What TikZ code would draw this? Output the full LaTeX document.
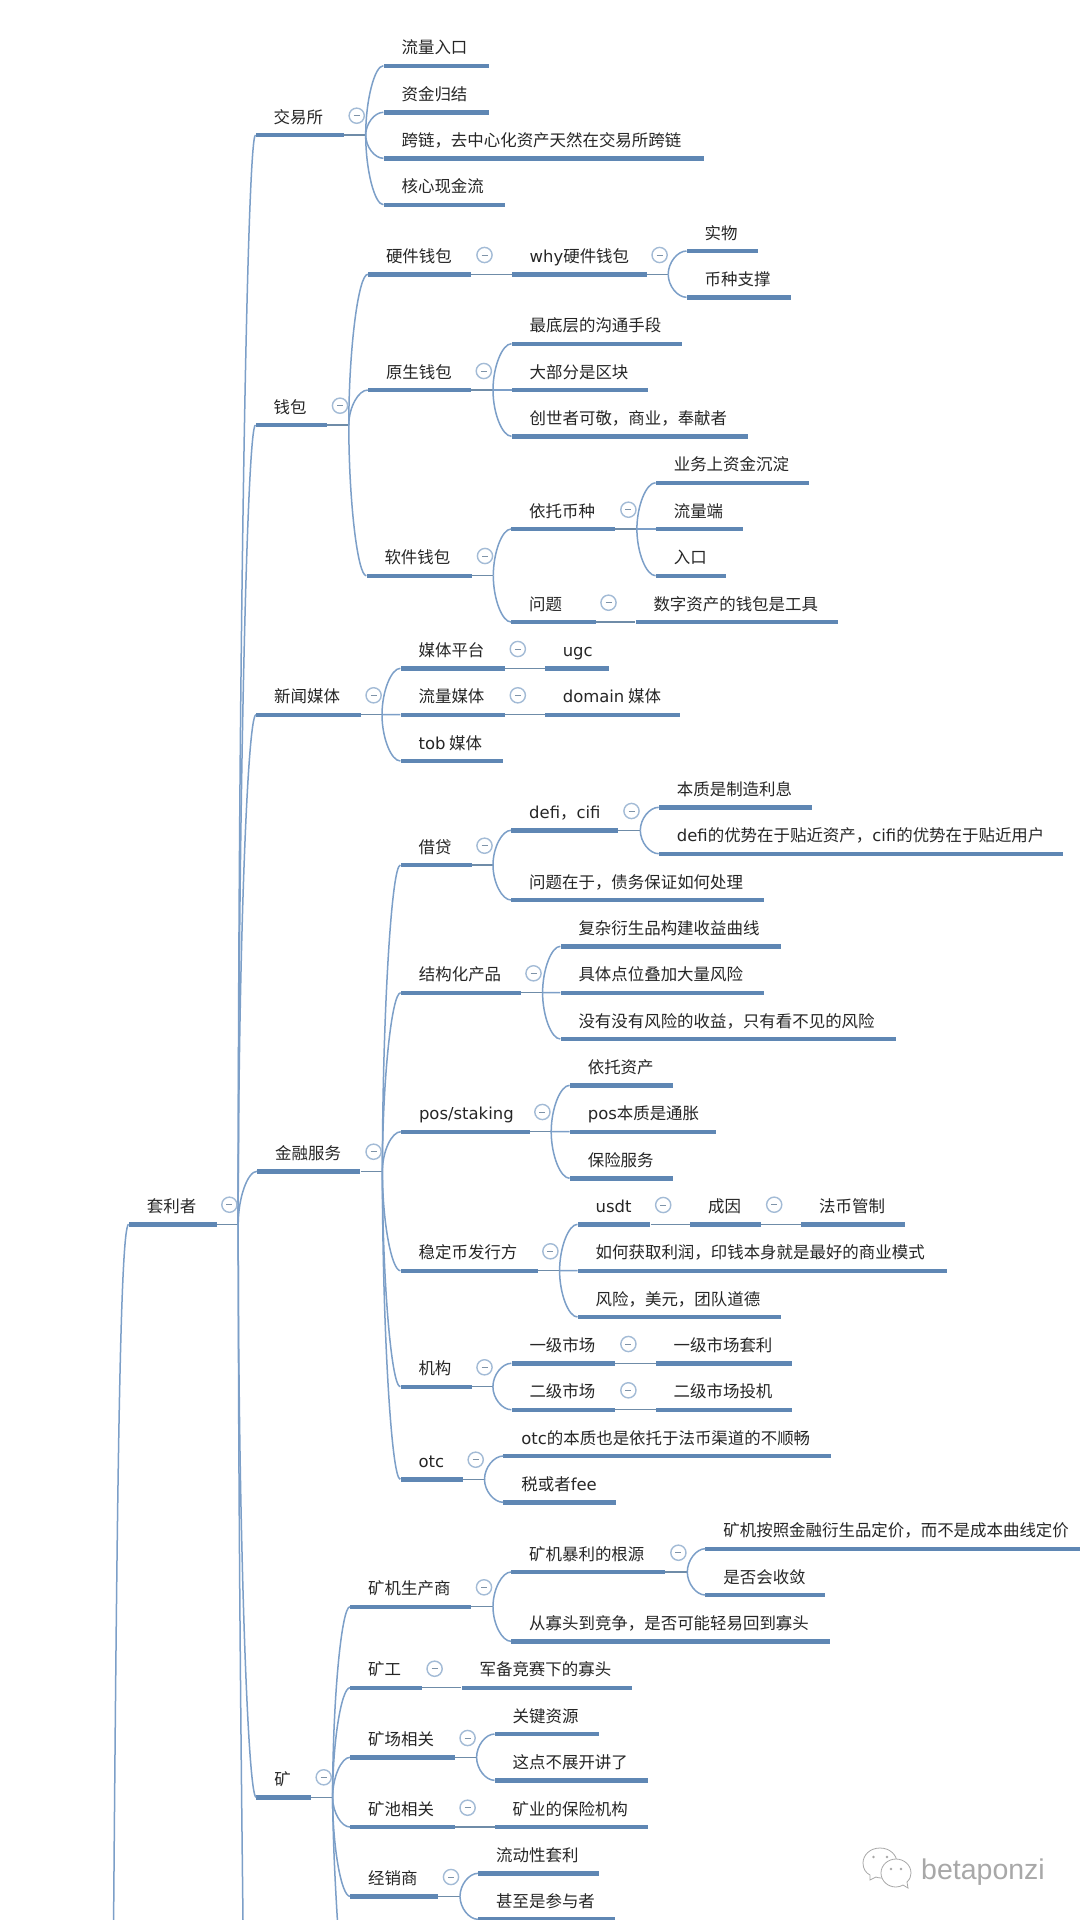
\documentclass[tikz,border=0pt]{standalone}
\usepackage{fontspec}
\setmainfont{Noto Sans CJK SC}
\newfontfamily\lat{DejaVu Sans}
\newfontfamily\wmfont{Liberation Sans}
\usetikzlibrary{calc}
\definecolor{barblue}{HTML}{5F87B4}
\definecolor{linkblue}{HTML}{7C9FC8}
\definecolor{stemblue}{HTML}{6F8CA8}
\definecolor{togglering}{HTML}{A3BBD6}
\definecolor{toggleminus}{HTML}{7E93A8}
\definecolor{labeltext}{HTML}{262626}
\definecolor{wmgrey}{HTML}{A8A8A8}
\tikzset{
  barnode/.style={rectangle,fill=barblue,inner sep=0pt,minimum height=4.4pt,anchor=west},
  lbl/.style={inner sep=0pt,anchor=base west,text=labeltext,font=\fontsize{16.45}{18}\selectfont},
  conn/.style={draw=linkblue,line width=1.5pt},
  stem/.style={draw=stemblue,line width=1.3pt},
  togglenode/.style={circle,draw=togglering,fill=white,line width=1.4pt,minimum size=15.2pt,inner sep=0pt,
    path picture={\draw[toggleminus,line width=0.9pt] ($(path picture bounding box.center)+(-3pt,0)$) -- ($(path picture bounding box.center)+(3pt,0)$);}},
  wmline/.style={draw=wmgrey,line width=0.8pt}
}
% name, x0, x1, y, text
\newcommand{\tpc}[5]{%
  \node[barnode,minimum width={(#3-#2)*1pt}] (#1) at (#2,#4) {};
  \node[lbl,xshift=18pt,yshift=11.8pt] (#1t) at (#1.west) {#5};}
% parent, fork x : horizontal stem from the bar to its fork
\newcommand{\fkk}[2]{%
  \coordinate (#1f) at (#2,0 |- #1.west);
  \draw[stem] (#1.east) -- (#1f);}
% parent, child : curved branch
\newcommand{\brr}[2]{%
  \draw[conn] (#1f) .. controls ($(#1f)!.5!(#1f |- #2.west)$) and ($(#2.west)!.5!(#1f |- #2.west)$) .. (#2.west);}
% parent, child : straight link
\newcommand{\stl}[2]{\draw[stem] (#1.east) -- (#2.west);}
% name, x, y
\newcommand{\tgl}[3]{\node[togglenode] (#1) at (#2,#3) {};}
\begin{document}
\begin{tikzpicture}[x=1pt,y=-1pt]
\useasboundingbox[fill=white] (0,0) rectangle (1080,1920);

% ---- nodes ----
\tpc{root}{128.7}{216.3}{1224.3}{套利者}
\tpc{jys}{255.5}{343.7}{135}{交易所}
\tpc{qb}{255.5}{327}{425}{钱包}
\tpc{xw}{256}{360.5}{714.7}{新闻媒体}
\tpc{jr}{257}{360.2}{1171.3}{金融服务}
\tpc{kuang}{256.2}{310.6}{1797.3}{矿}

\tpc{a1}{383.4}{488.4}{65.7}{流量入口}
\tpc{a2}{383.4}{488.4}{112.3}{资金归结}
\tpc{a3}{383.4}{703.7}{158.3}{跨链，去中心化资产天然在交易所跨链}
\tpc{a4}{383.4}{504.7}{204.7}{核心现金流}

\tpc{yj}{367.8}{471}{274.3}{硬件钱包}
\tpc{why}{511.5}{646.9}{274.3}{{\lat why}硬件钱包}
\tpc{sw}{686.5}{757.8}{251}{实物}
\tpc{bz}{686.5}{790.5}{297.3}{币种支撑}
\tpc{ys}{367.8}{471}{390}{原生钱包}
\tpc{ys1}{511.5}{681.6}{343.7}{最底层的沟通手段}
\tpc{ys2}{511.5}{648.2}{390}{大部分是区块}
\tpc{ys3}{511.5}{747.8}{436.3}{创世者可敬，商业，奉献者}
\tpc{rj}{366.3}{471.5}{575.7}{软件钱包}
\tpc{yt}{511}{615}{529}{依托币种}
\tpc{yt1}{655.6}{809}{482.7}{业务上资金沉淀}
\tpc{yt2}{655.6}{742.5}{529}{流量端}
\tpc{yt3}{655.6}{726}{575.7}{入口}
\tpc{wt}{511}{595.5}{622}{问题}
\tpc{wt1}{635.3}{838}{622}{数字资产的钱包是工具}

\tpc{mt}{400.4}{504.4}{668.3}{媒体平台}
\tpc{ugc}{544.6}{608.5}{668.3}{{\lat ugc}}
\tpc{ll}{400.4}{504.4}{714.7}{流量媒体}
\tpc{dm}{544.6}{679.7}{714.7}{{\lat domain} 媒体}
\tpc{tob}{400.4}{503}{761}{{\lat tob} 媒体}

\tpc{jd}{400.4}{471.5}{865}{借贷}
\tpc{df}{511}{618}{830.3}{{\lat defi}，{\lat cifi}}
\tpc{df1}{658.7}{812}{807.3}{本质是制造利息}
\tpc{df2}{658.7}{1063}{853.7}{{\lat defi}的优势在于贴近资产，{\lat cifi}的优势在于贴近用户}
\tpc{jd2}{511}{763.5}{900}{问题在于，债务保证如何处理}
\tpc{jg}{400.7}{521}{992.7}{结构化产品}
\tpc{jg1}{560.3}{780.4}{946.3}{复杂衍生品构建收益曲线}
\tpc{jg2}{560.3}{763.8}{992.7}{具体点位叠加大量风险}
\tpc{jg3}{560.3}{896}{1039}{没有没有风险的收益，只有看不见的风险}
\tpc{pos}{400.8}{529.4}{1131.7}{{\lat pos/staking}}
\tpc{pos1}{569.6}{672.9}{1085.3}{依托资产}
\tpc{pos2}{569.6}{716}{1131.7}{{\lat pos}本质是通胀}
\tpc{pos3}{569.6}{672.9}{1178.3}{保险服务}
\tpc{wd}{400.5}{537.8}{1270.7}{稳定币发行方}
\tpc{usdt}{577.5}{650.2}{1224.3}{{\lat usdt}}
\tpc{cy}{690}{760.8}{1224.3}{成因}
\tpc{fb}{801}{904.7}{1224.3}{法币管制}
\tpc{wd2}{577.5}{946.4}{1270.7}{如何获取利润，印钱本身就是最好的商业模式}
\tpc{wd3}{577.5}{781}{1317}{风险，美元，团队道德}
\tpc{ji}{400.3}{471.5}{1386.7}{机构}
\tpc{yj1}{511.3}{615}{1363.3}{一级市场}
\tpc{yj2}{655.5}{792.2}{1363.3}{一级市场套利}
\tpc{ej1}{511.3}{615}{1409.7}{二级市场}
\tpc{ej2}{655.5}{792.2}{1409.7}{二级市场投机}
\tpc{otc}{400.3}{463}{1479.3}{{\lat otc}}
\tpc{otc1}{503.2}{830.4}{1456}{{\lat otc}的本质也是依托于法币渠道的不顺畅}
\tpc{otc2}{503.2}{615.4}{1502.3}{税或者{\lat fee}}

\tpc{kj}{350}{471}{1606.7}{矿机生产商}
\tpc{bl}{511}{664.6}{1572}{矿机暴利的根源}
\tpc{bl1}{705.2}{1080}{1548.7}{矿机按照金融衍生品定价，而不是成本曲线定价}
\tpc{bl2}{705.2}{825}{1595}{是否会收敛}
\tpc{kj2}{511}{830}{1641.3}{从寡头到竞争，是否可能轻易回到寡头}
\tpc{kg}{350}{421.5}{1687.7}{矿工}
\tpc{kg1}{461.4}{631.5}{1687.7}{军备竞赛下的寡头}
\tpc{kc}{350}{454.5}{1757.3}{矿场相关}
\tpc{kc1}{494.5}{598.5}{1734}{关键资源}
\tpc{kc2}{494.5}{648}{1780.3}{这点不展开讲了}
\tpc{kcc}{350}{454.5}{1827}{矿池相关}
\tpc{kcc1}{494.5}{648}{1827}{矿业的保险机构}
\tpc{jx}{350}{438}{1896.3}{经销商}
\tpc{jx1}{478}{598.5}{1873.3}{流动性套利}
\tpc{jx2}{478}{615}{1919.3}{甚至是参与者}

% ---- connectors ----
\coordinate (rootup) at (113.6,1920);
\draw[conn] (rootup) .. controls (117,1500) and (120,1224.3) .. (root.west);

\fkk{root}{238.2}
\foreach \c in {jys,qb,xw,jr,kuang} {\brr{root}{\c}}
\coordinate (rootdown) at (243,1920);
\draw[conn] (rootf) .. controls (238.4,1500) and (241,1750) .. (rootdown);

\fkk{jys}{365.7}
\foreach \c in {a1,a2,a3,a4} {\brr{jys}{\c}}
\fkk{qb}{348.8}
\foreach \c in {yj,ys,rj} {\brr{qb}{\c}}
\stl{yj}{why}
\fkk{why}{668.2}
\foreach \c in {sw,bz} {\brr{why}{\c}}
\fkk{ys}{493}
\foreach \c in {ys1,ys2,ys3} {\brr{ys}{\c}}
\fkk{rj}{493.3}
\foreach \c in {yt,wt} {\brr{rj}{\c}}
\fkk{yt}{636.9}
\foreach \c in {yt1,yt2,yt3} {\brr{yt}{\c}}
\stl{wt}{wt1}

\fkk{xw}{382}
\foreach \c in {mt,ll,tob} {\brr{xw}{\c}}
\stl{mt}{ugc}
\stl{ll}{dm}

\fkk{jr}{382.4}
\foreach \c in {jd,jg,pos,wd,ji,otc} {\brr{jr}{\c}}
\fkk{jd}{493}
\foreach \c in {df,jd2} {\brr{jd}{\c}}
\fkk{df}{640.3}
\foreach \c in {df1,df2} {\brr{df}{\c}}
\fkk{jg}{542.6}
\foreach \c in {jg1,jg2,jg3} {\brr{jg}{\c}}
\fkk{pos}{551.2}
\foreach \c in {pos1,pos2,pos3} {\brr{pos}{\c}}
\fkk{wd}{559.6}
\foreach \c in {usdt,wd2,wd3} {\brr{wd}{\c}}
\stl{usdt}{cy}
\stl{cy}{fb}
\fkk{ji}{492.9}
\foreach \c in {yj1,ej1} {\brr{ji}{\c}}
\stl{yj1}{yj2}
\stl{ej1}{ej2}
\fkk{otc}{484.5}
\foreach \c in {otc1,otc2} {\brr{otc}{\c}}

\fkk{kuang}{332.6}
\foreach \c in {kj,kg,kc,kcc,jx} {\brr{kuang}{\c}}
\coordinate (kuangdown) at (337.4,1920);
\draw[conn] (kuangf) .. controls (333,1840) and (335,1880) .. (kuangdown);
\fkk{kj}{493}
\foreach \c in {bl,kj2} {\brr{kj}{\c}}
\fkk{bl}{687.3}
\foreach \c in {bl1,bl2} {\brr{bl}{\c}}
\stl{kg}{kg1}
\fkk{kc}{476.6}
\foreach \c in {kc1,kc2} {\brr{kc}{\c}}
\stl{kcc}{kcc1}
\fkk{jx}{460}
\foreach \c in {jx1,jx2} {\brr{jx}{\c}}

% ---- toggles ----
\tgl{t01}{229.4}{1204.7}
\tgl{t02}{356.7}{115.7}
\tgl{t03}{340}{405.7}
\tgl{t04}{484.5}{255}
\tgl{t05}{659.6}{255}
\tgl{t06}{483.8}{371}
\tgl{t07}{485}{556}
\tgl{t08}{628.4}{509.7}
\tgl{t09}{608.5}{602.7}
\tgl{t10}{373.6}{695.3}
\tgl{t11}{517.8}{649}
\tgl{t12}{517.8}{695.3}
\tgl{t13}{484.5}{845.7}
\tgl{t14}{631.5}{811}
\tgl{t15}{533.5}{973.3}
\tgl{t16}{373.6}{1151.7}
\tgl{t17}{542.4}{1112}
\tgl{t18}{550.4}{1251.3}
\tgl{t19}{663.2}{1205}
\tgl{t20}{774.2}{1204.7}
\tgl{t21}{484.5}{1367.3}
\tgl{t22}{628.4}{1344}
\tgl{t23}{628.4}{1390.3}
\tgl{t24}{475.7}{1459.7}
\tgl{t25}{323.7}{1777.3}
\tgl{t26}{484}{1587.3}
\tgl{t27}{678.4}{1552.7}
\tgl{t28}{434.6}{1668.7}
\tgl{t29}{467.6}{1738}
\tgl{t30}{467.6}{1807.7}
\tgl{t31}{451}{1877}

% ---- watermark ----
\draw[wmline,fill=white] (880,1848) .. controls (870,1848) and (863,1855) .. (863,1863)
  .. controls (863,1869) and (866,1873) .. (870,1875) -- (870,1880) -- (876,1877)
  .. controls (878,1878) and (882,1878) .. (884,1878)
  .. controls (893,1878) and (897,1870) .. (897,1863)
  .. controls (897,1855) and (890,1848) .. (880,1848) -- cycle;
\draw[wmline,fill=white] (896,1859) .. controls (888,1859) and (881,1865) .. (881,1873)
  .. controls (881,1881) and (888,1887) .. (896,1887)
  .. controls (899,1887) and (901,1886) .. (903,1885) -- (908,1888) -- (907,1882)
  .. controls (910,1879) and (911,1876) .. (911,1873)
  .. controls (911,1865) and (904,1859) .. (896,1859) -- cycle;
\foreach \px/\py in {873.5/1857,887/1857,891/1869,901/1869} {
  \fill[wmgrey] (\px,\py) circle (1.3pt);}
\node[inner sep=0pt,anchor=base west,text=wmgrey,font=\wmfont\fontsize{28.5}{30}\selectfont] (wm) at (921,1879) {betaponzi};
\end{tikzpicture}
\end{document}
